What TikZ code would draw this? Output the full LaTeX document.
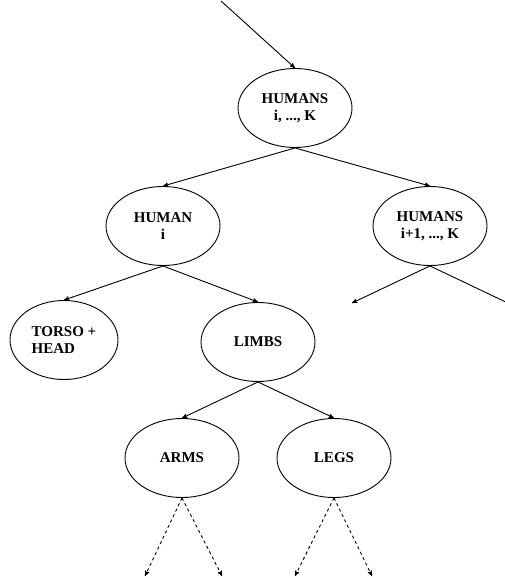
\documentclass[tikz,border=0pt]{standalone}
\usepackage{fontspec}
\setmainfont{Liberation Serif}
\usetikzlibrary{arrows}
\usetikzlibrary{shapes.geometric}

\tikzset{part/.style={draw, ellipse, line width=.9pt, inner sep=0pt, minimum width=114pt, minimum height=79pt, align=center, font=\fontsize{15}{16.5}\selectfont\bfseries}}

\begin{document}
\begin{tikzpicture}[x=1pt, y=-1pt, line width=.9pt, >=stealth']
\useasboundingbox (0,0) rectangle (505,578);
\node[part] (humans) at (295,108) {HUMANS\\i, ..., K};
\node[part] (human) at (163,226) {HUMAN\\i};
\node[part] (rest) at (430,226) {HUMANS\\i+1, ..., K};
\node[part, minimum width=108pt, align=left] (torso) at (64,340) {TORSO +\\HEAD};
\node[part] (limbs) at (258,342) {LIMBS};
\node[part] (arms) at (182,458) {ARMS};
\node[part] (legs) at (334,458) {LEGS};
\coordinate (in) at (221,1);
\coordinate (restl) at (352,303);
\coordinate (restr) at (512,305);
\draw[->] (in)--(humans.north);
\draw[->] (humans.south)--(human.north);
\draw[->] (humans.south)--(rest.north);
\draw[->] (human.south)--(torso.north);
\draw[->] (human.south)--(limbs.north);
\draw[->] (limbs.south)--(arms.north);
\draw[->] (limbs.south)--(legs.north);
\draw[->] (rest.south)--(restl);
\draw (rest.south)--(restr);
\foreach \n/\a/\b in {arms/145/222, legs/295/372} {
 \coordinate (\n l) at (\a,576);
 \coordinate (\n r) at (\b,576);
 \draw[->, dashed] (\n.south)--(\n l);
 \draw[->, dashed] (\n.south)--(\n r);
}
\end{tikzpicture}
\end{document}
